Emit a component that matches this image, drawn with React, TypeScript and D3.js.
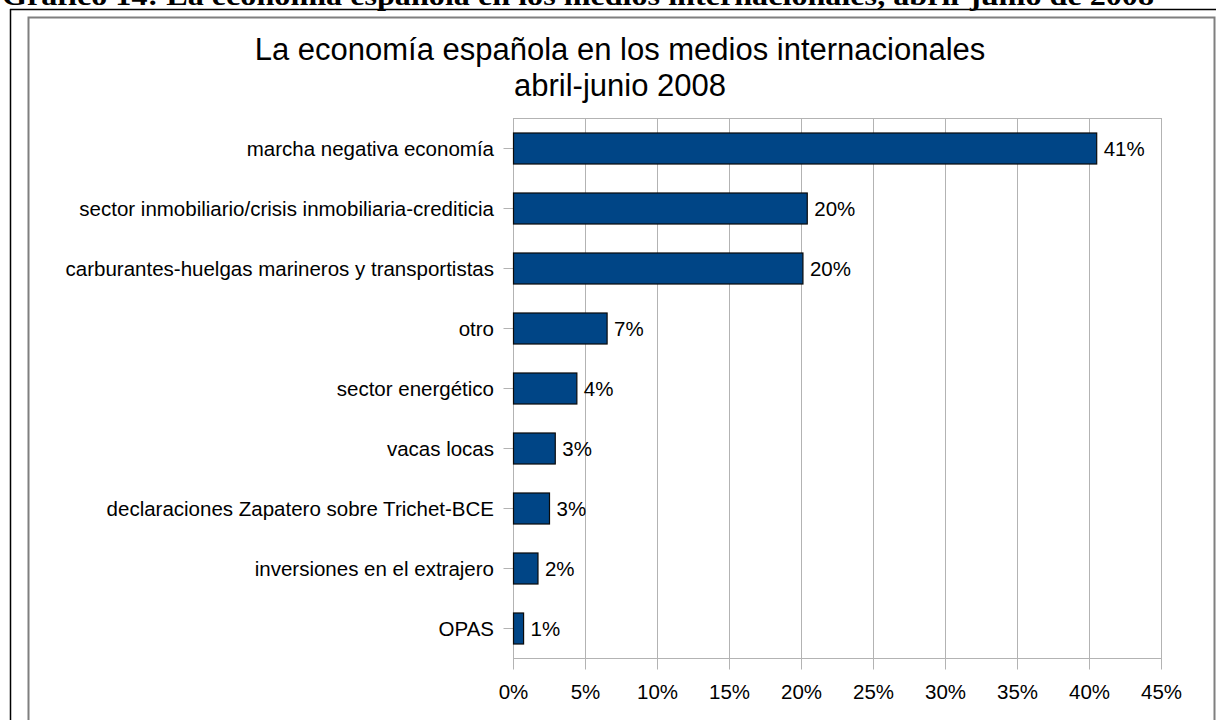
import React from "react";
import * as d3 from "d3";

const header = "Gráfico 14: La economía española en los medios internacionales, abril-junio de 2008";
const titleLines = ["La economía española en los medios internacionales", "abril-junio 2008"];
const categories = [
  "marcha negativa economía",
  "sector inmobiliario/crisis inmobiliaria-crediticia",
  "carburantes-huelgas marineros y transportistas",
  "otro",
  "sector energético",
  "vacas locas",
  "declaraciones Zapatero sobre Trichet-BCE",
  "inversiones en el extrajero",
  "OPAS",
];
const values = [40.5, 20.4, 20.1, 6.5, 4.4, 2.9, 2.5, 1.7, 0.7];
const valueLabels = ["41%", "20%", "20%", "7%", "4%", "3%", "3%", "2%", "1%"];
const xTicks = [0, 5, 10, 15, 20, 25, 30, 35, 40, 45];
const xTickLabels = ["0%", "5%", "10%", "15%", "20%", "25%", "30%", "35%", "40%", "45%"];

const W = 1216;
const H = 720;
const font = "'Liberation Sans', Arial, sans-serif";

export default function App() {
  const x = d3.scaleLinear().domain([0, 45]).range([513.5, 1161.5]);
  const y = d3
    .scaleBand<string>()
    .domain(categories)
    .range([118.5, 658.5])
    .paddingInner(0.483)
    .paddingOuter(0.2415);
  const [x0, x1] = x.range();
  const [y0, y1] = y.range();
  const grid = "#b3b3b3";

  return (
    <svg
      width={W}
      height={H}
      viewBox={`0 0 ${W} ${H}`}
      style={{ position: "absolute", left: 0, top: 0, background: "#fff" }}
    >
      <rect x={0} y={0} width={W} height={H} fill="#fff" />
      {/* cut-off document caption */}
      <text
        x={2}
        y={5}
        fontFamily="'Liberation Serif', 'Times New Roman', serif"
        fontWeight="bold"
        fontSize={27}
        textLength={1152}
        lengthAdjust="spacingAndGlyphs"
        fill="#000"
      >
        {header}
      </text>
      {/* outer page frame */}
      <line x1={10} y1={9.5} x2={W} y2={9.5} stroke="#000" strokeWidth={1.5} />
      <line x1={10.5} y1={9} x2={10.5} y2={H} stroke="#000" strokeWidth={1.5} />
      {/* chart frame */}
      <rect x={28.5} y={17.5} width={1186} height={H} fill="#fff" stroke="#7f7f7f" strokeWidth={2} />

      {/* title */}
      {titleLines.map((t, i) => (
        <text
          key={i}
          x={620}
          y={60 + i * 36}
          textAnchor="middle"
          fontFamily={font}
          fontSize={31}
          fill="#000"
        >
          {t}
        </text>
      ))}

      {/* plot wall */}
      <rect x={x0} y={y0} width={x1 - x0} height={y1 - y0} fill="none" stroke={grid} strokeWidth={1} />
      {xTicks.map((t, i) => (
        <g key={t}>
          <line x1={x(t)} x2={x(t)} y1={y0} y2={y1 + 11} stroke={grid} strokeWidth={1} />
          <text
            x={x(t)}
            y={699}
            textAnchor="middle"
            fontFamily={font}
            fontSize={20.5}
            fill="#000"
          >
            {xTickLabels[i]}
          </text>
        </g>
      ))}

      {/* categories */}
      {categories.map((c, i) => {
        const cy = (y(c) as number) + y.bandwidth() / 2;
        return (
          <g key={c}>
            <line x1={x0 - 10} x2={x0} y1={cy} y2={cy} stroke={grid} strokeWidth={1} />
            <text
              x={494}
              y={cy}
              dy="0.36em"
              textAnchor="end"
              fontFamily={font}
              fontSize={20.5}
              fill="#000"
            >
              {c}
            </text>
            <rect
              x={x(0)}
              y={y(c)}
              width={x(values[i]) - x(0)}
              height={y.bandwidth()}
              fill="#004586"
              stroke="#0a0a0a"
              strokeWidth={1.2}
            />
            <text
              x={x(values[i]) + 7}
              y={cy}
              dy="0.36em"
              fontFamily={font}
              fontSize={20.5}
              fill="#000"
            >
              {valueLabels[i]}
            </text>
          </g>
        );
      })}
    </svg>
  );
}
